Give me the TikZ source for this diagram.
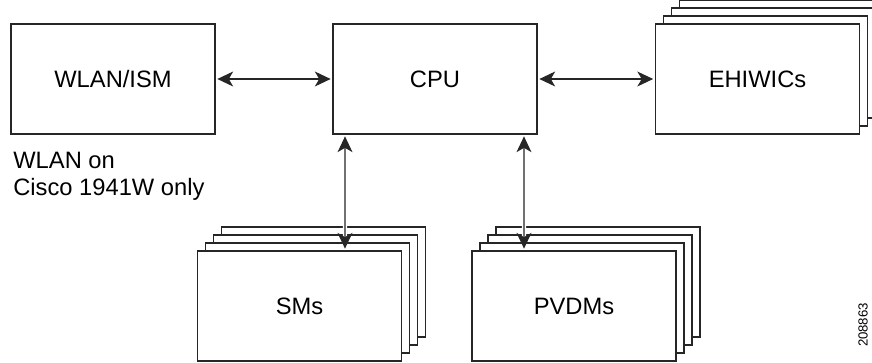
\documentclass[tikz,border=0pt]{standalone}
\usepackage{fontspec}
\setmainfont{Liberation Sans}
\usetikzlibrary{arrows.meta}

\begin{document}
\begin{tikzpicture}[x=0.02cm, y=-0.02cm,
	box/.style={draw=black!85, line width=0.7pt, fill=white, minimum width=4.08cm, minimum height=2.2cm, inner sep=0pt, font=\fontsize{13.5}{16}\selectfont},
	link/.style={black!85, line width=0.6pt, {Stealth[length=9pt,width=8.5pt,inset=2.5pt]}-{Stealth[length=9pt,width=8.5pt,inset=2.5pt]}, shorten <=1pt, shorten >=1pt},
	halo/.style={preaction={draw=white, line width=2.5pt, -}}]
	\useasboundingbox (0,0) rectangle (872,362);

	% cards stacked behind the front ones
	\foreach \k in {3,2,1} {
		\node[box, line width=0.6pt] (ehwic\k) at (757.5+8*\k, 79-8*\k) {};
		\node[box, line width=0.6pt] (sm\k) at (299.5+8*\k, 306-8*\k) {};
		\node[box, line width=0.6pt] (pvdm\k) at (574+8*\k, 306-8*\k) {};
	}

	\node[box] (wlan) at (113,79) {WLAN/ISM};
	\node[box] (cpu) at (435,79) {CPU};
	\node[box] (ehwic) at (757.5,79) {EHIWICs};
	\node[box] (sm) at (299.5,306) {SMs};
	\node[box] (pvdm) at (574,306) {PVDMs};

	\node[anchor=north west, align=left, inner sep=0pt, font=\fontsize{13.5}{15.3}\selectfont] (note) at (13,152) {WLAN on\\Cisco 1941W only};
	\node[rotate=90, inner sep=0pt, font=\fontsize{7.5}{9}\selectfont] (fig) at (863,325) {208863};

	\draw[link] (wlan) -- (cpu);
	\draw[link] (cpu) -- (ehwic);
	\draw[link, halo] ([xshift=-1.8cm]cpu.south) -- ([xshift=0.91cm]sm.north);
	\draw[link, halo] ([xshift=1.78cm]cpu.south) -- ([xshift=-1cm]pvdm.north);
\end{tikzpicture}
\end{document}
